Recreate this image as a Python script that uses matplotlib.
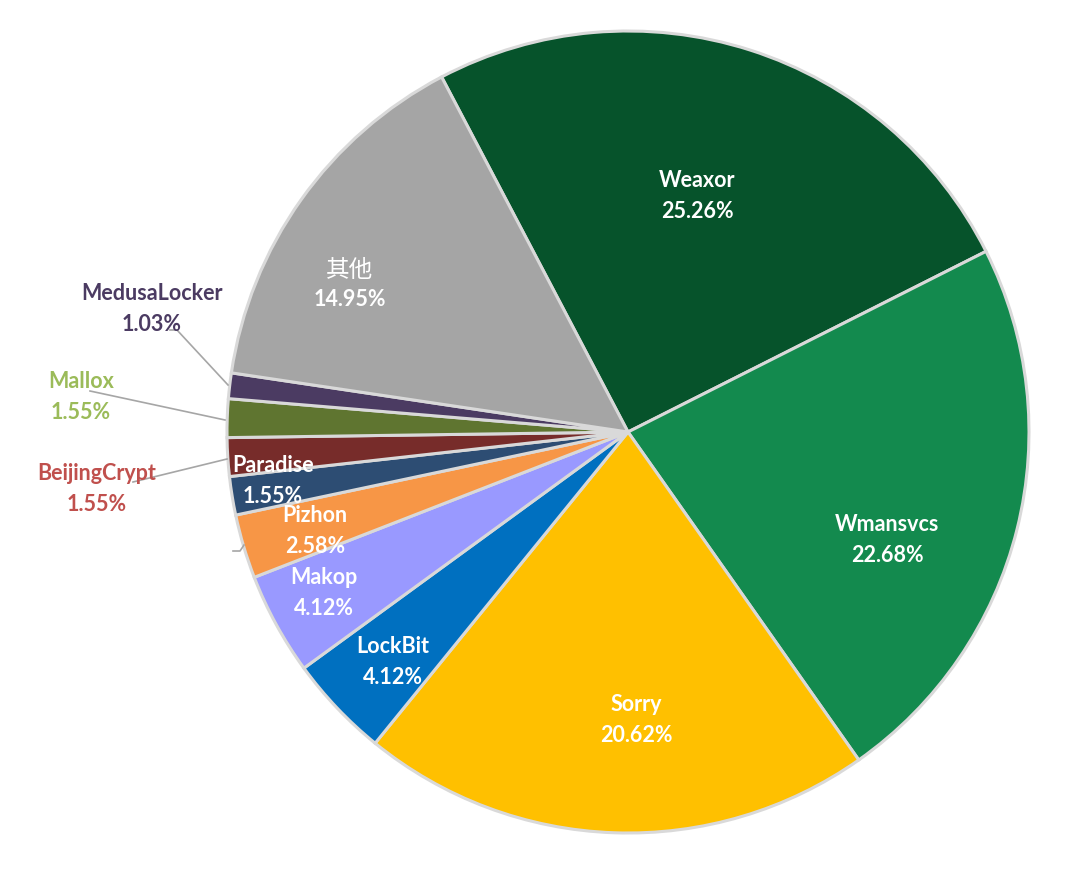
import matplotlib.pyplot as plt
import numpy as np

# data
names = ["Weaxor", "Wmansvcs", "Sorry", "LockBit", "Makop", "Pizhon",
         "Paradise", "BeijingCrypt", "Mallox", "MedusaLocker", "其他"]
shares = [25.26, 22.68, 20.62, 4.12, 4.12, 2.58, 1.55, 1.55, 1.55, 1.03, 14.95]

colors = ["#06532B", "#138A4E", "#FFC000", "#0070C0", "#9999FF", "#F79646",
          "#2D4D73", "#772C2A", "#5F7530", "#4B3B62", "#A5A5A5"]
text_colors = ["white"] * 7 + ["#C0504D", "#9BBB59", "#4B3B62", "white"]

# label placement (pixel centres in the 1080x875 canvas), layout only
label_px = [(697, 196), (887, 540), (636, 720), (393, 662), (324, 593),
            (315, 531), (273, 481), (97, 489), (81, 397), (152, 309), (350, 285)]
# leader lines for the outside labels: (label end, wedge end) in pixels
leaders = {7: [(133, 482), (227, 459)],
           8: [(90, 391), (225, 420)],
           9: [(170, 330), (177, 330), (228, 385)]}

W, H = 1080, 875
cx, cy, R = 628, 432, 401


def to_data(px, py):
    return (px - cx) / R, (cy - py) / R


fig = plt.figure(figsize=(W / 100, H / 100), dpi=100)
ax = fig.add_axes([0, 0, 1, 1])

ax.pie(shares, colors=colors, startangle=117.7, counterclock=False,
       wedgeprops=dict(edgecolor="#D9D9D9", linewidth=2.2))

for i, name in enumerate(names):
    x, y = to_data(*label_px[i])
    if name == "其他":
        ax.text(x, y + 0.037, name, ha="center", va="center", color="white",
                fontsize=17, family=["Noto Sans CJK SC", "DejaVu Sans"])
        ax.text(x, y - 0.036, f"{shares[i]:.2f}%", ha="center", va="center",
                color="white", fontsize=15.5, fontweight="bold", family="Lato")
    else:
        ax.text(x, y, f"{name}\n{shares[i]:.2f}%", ha="center", va="center",
                color=text_colors[i], fontsize=15.5, fontweight="bold",
                family="Lato", linespacing=1.6)

for i, pts in leaders.items():
    xs, ys = zip(*[to_data(*p) for p in pts])
    ax.plot(xs, ys, color="#A6A6A6", lw=1.2, zorder=1)

# small stray leader near Pizhon
xs, ys = zip(*[to_data(*p) for p in [(233, 551), (240, 551), (244, 545)]])
ax.plot(xs, ys, color="#A6A6A6", lw=1.2)

ax.set_xlim(-cx / R, (W - cx) / R)
ax.set_ylim((cy - H) / R, cy / R)
ax.set_aspect("equal")
ax.axis("off")

fig.savefig("out.png", dpi=100, facecolor="white")
